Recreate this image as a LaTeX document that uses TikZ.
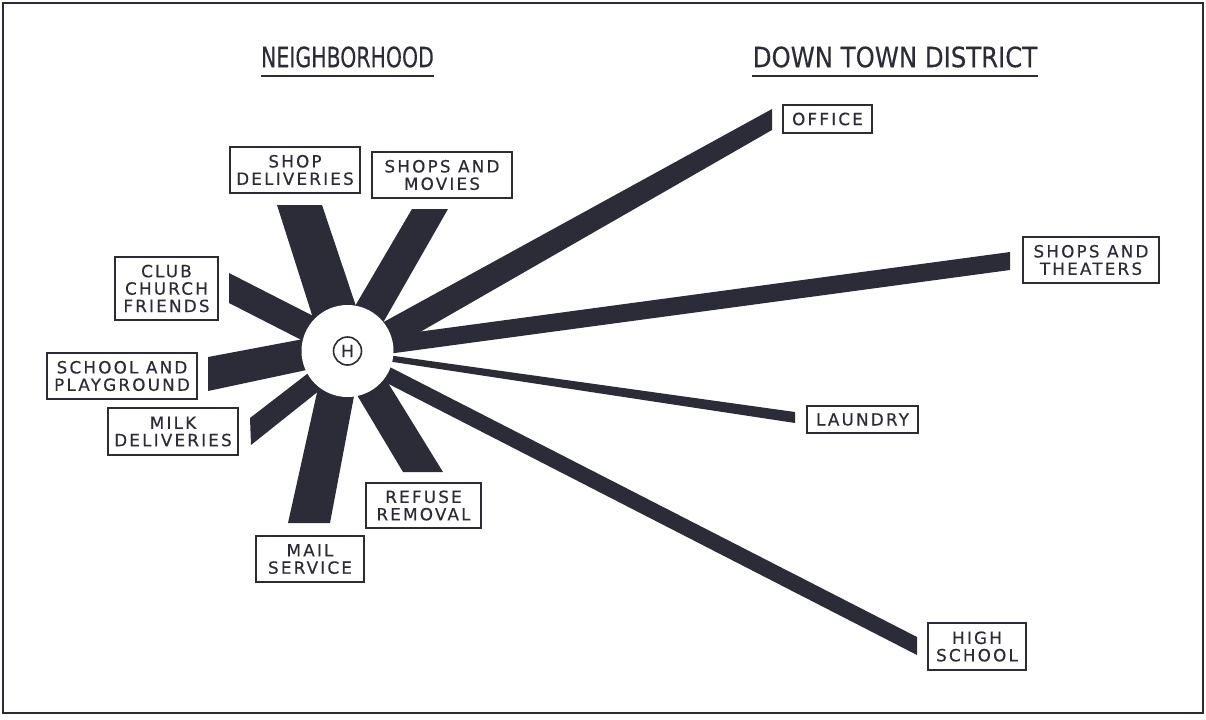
\documentclass[tikz,border=0pt]{standalone}
\usepackage{fontspec}
\newfontfamily\boxfont[LetterSpace=13, FakeBold=0.5]{DejaVu Sans}
\newfontfamily\headfont[FakeBold=0.4]{DejaVu Sans}
\definecolor{ink}{RGB}{44,44,56}

\begin{document}
\begin{tikzpicture}[x=0.5pt, y=-0.5pt,
    place/.style={draw=ink, line width=1pt, inner sep=0pt, align=center, text=ink,
      font=\boxfont\fontsize{8.4}{8.7}\selectfont},
    head/.style={inner sep=0pt, text=ink, font=\headfont\fontsize{14}{14}\selectfont},
    rule/.style={draw=ink, line width=1pt},
    spoke/.style={fill=ink}]
  \useasboundingbox (0,0) rectangle (1206,719);

  % frame
  \draw[ink, line width=1.2pt] (3,3) rectangle (1203,713);

  % headings
  \node[head, xscale=0.73] (nbh) at (347.5,57) {NEIGHBORHOOD};
  \node[head, xscale=0.87] (dtd) at (895,57) {DOWN TOWN DISTRICT};
  \draw[rule] ([yshift=-4pt]nbh.south west) -- ([yshift=-4pt]nbh.south east);
  \draw[rule] ([yshift=-4pt]dtd.south west) -- ([yshift=-4pt]dtd.south east);

  % neighborhood spokes
  \fill[spoke] (277,205) -- (322,205) -- (364,330) -- (320,340) -- cycle;
  \fill[spoke] (412,209) -- (448,209) -- (376,335) -- (341,330) -- cycle;
  \fill[spoke] (229,273) -- (229,303) -- (325,352) -- (325,322) -- cycle;
  \fill[spoke] (208,357) -- (208,391) -- (330,365) -- (330,334) -- cycle;
  \fill[spoke] (250,418) -- (251,445) -- (325,386) -- (320,364) -- cycle;
  \fill[spoke] (288,523) -- (330,523) -- (358,375) -- (322,370) -- cycle;
  \fill[spoke] (403,472) -- (443,472) -- (377,365) -- (348,380) -- cycle;

  % down town spokes
  \fill[spoke] (772,109) -- (772,130) -- (380,355) -- (380,324) -- cycle;
  \fill[spoke] (1010,252) -- (1010,270) -- (380,355) -- (380,337) -- cycle;
  \fill[spoke] (795,412) -- (795,423) -- (380,360) -- (380,354) -- cycle;
  \fill[spoke] (917,637) -- (917,655) -- (375,377) -- (380,362) -- cycle;

  % home
  \node[circle, fill=white, minimum size=46pt, inner sep=0pt] (hub) at (347.5,351) {};
  \node[circle, draw=ink, line width=0.8pt, minimum size=14pt, inner sep=0pt, text=ink,
    font=\headfont\fontsize{8.5}{8.5}\selectfont] (home) at (hub) {H};

  % neighborhood places
  \node[place, minimum width=65pt, minimum height=23pt] (shopdel) at (295,170) {SHOP\\DELIVERIES};
  \node[place, minimum width=70pt, minimum height=23pt] (shopmov) at (442,175) {SHOPS AND\\MOVIES};
  \node[place, minimum width=51.5pt, minimum height=31.5pt] (club) at (166.5,288.5) {CLUB\\CHURCH\\FRIENDS};
  \node[place, minimum width=75pt, minimum height=23pt] (school) at (122,376) {SCHOOL AND\\PLAYGROUND};
  \node[place, minimum width=65pt, minimum height=23.5pt] (milk) at (173,431.5) {MILK\\DELIVERIES};
  \node[place, minimum width=54pt, minimum height=23pt] (mail) at (310,559) {MAIL\\SERVICE};
  \node[place, minimum width=57.5pt, minimum height=22.5pt] (refuse) at (423.5,505.5) {REFUSE\\REMOVAL};

  % down town places
  \node[place, minimum width=44.5pt, minimum height=14pt] (office) at (827.5,119) {OFFICE};
  \node[place, minimum width=68pt, minimum height=23pt] (theaters) at (1091,260) {SHOPS AND\\THEATERS};
  \node[place, minimum width=55.5pt, minimum height=13.5pt] (laundry) at (862.5,419.5) {LAUNDRY};
  \node[place, minimum width=49pt, minimum height=23.5pt] (highsch) at (977,646.5) {HIGH\\SCHOOL};
\end{tikzpicture}
\end{document}
